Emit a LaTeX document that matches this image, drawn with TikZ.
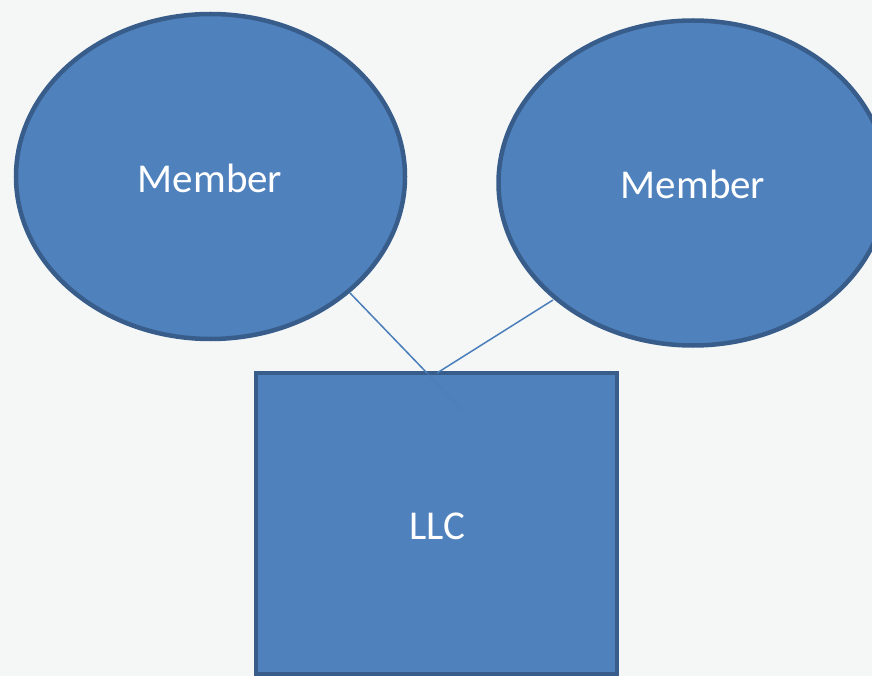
\documentclass[tikz,border=0pt]{standalone}
\usepackage{fontspec}
\setmainfont{Carlito}
\usetikzlibrary{shapes.geometric}
\definecolor{bg}{HTML}{F5F7F7}
\definecolor{fillblue}{HTML}{4F81BD}
\definecolor{edgeblue}{HTML}{385D8A}
\definecolor{lineblue}{HTML}{4A7EBB}
\tikzset{
  shapebox/.style={fill=fillblue, draw=edgeblue, line width=4.5pt, outer sep=0pt},
  labeltext/.style={text=white, font=\fontsize{41}{48}\selectfont, inner sep=0pt},
  member/.style={shapebox, ellipse, inner sep=0pt, minimum width=389pt, minimum height=325pt},
  conn/.style={draw=lineblue, line width=1.5pt}
}
\begin{document}
\begin{tikzpicture}[x=1pt,y=-1pt]
\fill[bg] (0,0) rectangle (872,676);
\useasboundingbox (0,0) rectangle (872,676);
\node[member] (m1) at (210.5,176.5) {};
\node[labeltext] (t1) at (210,178) {Member};
\node[member] (m2) at (693,183) {};
\node[labeltext] (t2) at (693,184) {Member};
\coordinate (a1) at (350,293);
\coordinate (a2) at (427,373);
\coordinate (a3) at (463,411);
\coordinate (b1) at (553,300);
\coordinate (b2) at (437,373);
\node[shapebox, rectangle, inner sep=0pt, minimum width=361pt, minimum height=301pt, anchor=north west] (llc) at (256,373) {};
\node[labeltext] (t3) at (437,526) {LLC};
\draw[conn] (a1) -- (a2);
\draw[conn, opacity=0.45] (a2) -- (a3);
\draw[conn] (b1) -- (b2);
\end{tikzpicture}
\end{document}
